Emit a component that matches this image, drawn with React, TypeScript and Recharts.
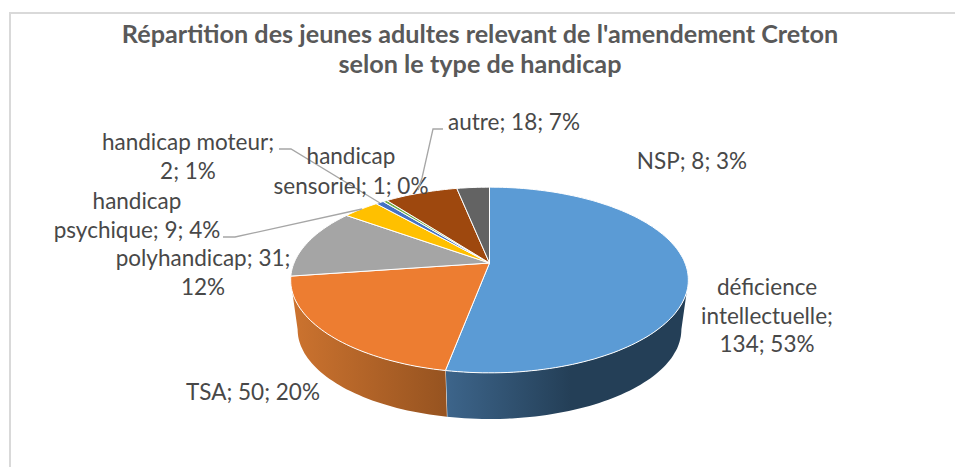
import { Pie, PieChart } from "recharts";

const categories = [
  "déficience intellectuelle",
  "TSA",
  "polyhandicap",
  "handicap psychique",
  "handicap moteur",
  "handicap sensoriel",
  "autre",
  "NSP",
];
const values = [134, 50, 31, 9, 2, 1, 18, 8];
const percents = [53, 20, 12, 4, 1, 0, 7, 3];
const colors = ["#5b9bd5", "#ed7d31", "#a5a5a5", "#ffc000", "#4472c4", "#70ad47", "#9e480e", "#636363"];

// label text, one entry per line, as placed by hand in the original
const labelLines = [
  ["déficience", "intellectuelle;", "134; 53%"],
  ["TSA; 50; 20%"],
  ["polyhandicap; 31;", "12%"],
  ["handicap", "psychique; 9; 4%"],
  ["handicap moteur;", "2; 1%"],
  ["handicap", "sensoriel; 1; 0%"],
  ["autre; 18; 7%"],
  ["NSP; 8; 3%"],
];
const labelX = [767, 253, 203, 137, 188, 351, 514, 692];
const labelY = [295, 400, 266, 209, 150, 164, 130, 169];
const labelStep = [28.5, 0, 29, 29, 29, 30, 0, 0];
const leaders: Record<number, string> = {
  3: "M223 237 L235 237 L362 209",
  4: "M279 149 L291 149 L380 203",
  6: "M443 129 L433 129 L422 178 L418 190",
};

const data = categories.map((name, i) => ({ name, value: values[i], percent: percents[i], fill: colors[i] }));

const W = 955;
const H = 467;
const CX = 489.5;
const CY = 263;
const RADIUS = 195.5;
const TILT = 0.459; // vertical squash of the disc
const PERSP = 0.183; // front of the disc is nearer, so it bulges
const DEPTH = 50;
const BOTTOM_SCALE = 0.965;

// angle in recharts degrees -> point on the tilted disc
function project(angle: number, cx: number, cy: number, r: number) {
  const a = (angle * Math.PI) / 180;
  const x = Math.cos(a);
  const y = -Math.sin(a);
  const d = 1 - PERSP * y;
  return [cx + (r * x) / d, cy + (r * TILT * y) / d];
}

function arcPoints(from: number, to: number, cx: number, cy: number, r: number) {
  const n = Math.max(1, Math.ceil(Math.abs(to - from) / 1.5));
  const pts: number[][] = [];
  for (let i = 0; i <= n; i++) pts.push(project(from + ((to - from) * i) / n, cx, cy, r));
  return pts;
}

const toPath = (pts: number[][]) => "M" + pts.map((p) => p[0].toFixed(1) + " " + p[1].toFixed(1)).join(" L") + " Z";

function TopSlice(props: any) {
  const { cx, cy, outerRadius, startAngle, endAngle, fill } = props;
  const pts = [[cx, cy], ...arcPoints(startAngle, endAngle, cx, cy, outerRadius)];
  return <path d={toPath(pts)} fill={fill} stroke="#ffffff" strokeWidth={1} strokeLinejoin="round" />;
}

function SideSlice(props: any) {
  const { cx, cy, outerRadius, startAngle, endAngle, index } = props;
  // only the front of the rim shows, rim and base have slightly different silhouettes
  const topFrom = Math.min(startAngle, -18);
  const topTo = Math.max(endAngle, -162);
  const baseFrom = Math.min(startAngle, -10.5);
  const baseTo = Math.max(endAngle, -169.5);
  if (baseFrom <= baseTo) return <g />;
  const top = arcPoints(topFrom, topTo, cx, cy, outerRadius);
  const base = arcPoints(baseFrom, baseTo, cx, cy + DEPTH, outerRadius * BOTTOM_SCALE);
  const id = "wall" + index;
  const stops =
    index === 0
      ? [["0", "#3d658b"], ["0.52", "#243f57"], ["1", "#243f57"]]
      : [["0", "#cc732f"], ["1", "#965320"]];
  return (
    <g>
      <defs>
        <linearGradient id={id} x1="0" y1="0" x2="1" y2="0">
          {stops.map((s) => (
            <stop key={s[0]} offset={s[0]} stopColor={s[1]} />
          ))}
        </linearGradient>
      </defs>
      <path d={toPath([...top, ...base.reverse()])} fill={"url(#" + id + ")"} stroke="none" />
      {index === 0 && <path d={`M${top[top.length - 1][0]} ${top[top.length - 1][1]} L${base[0][0]} ${base[0][1]}`} stroke="#ffffff" strokeWidth={1} />}
    </g>
  );
}

function SliceLabel(props: any) {
  const i = props.index;
  return (
    <g>
      {labelLines[i].map((line, n) => (
        <text
          key={line}
          x={labelX[i]}
          y={labelY[i] + n * labelStep[i]}
          textAnchor="middle"
          fontFamily="Lato"
          fontSize={22.5}
          fill="#484848"
        >
          {line}
        </text>
      ))}
      {leaders[i] && <path d={leaders[i]} fill="none" stroke="#a6a6a6" strokeWidth={1.3} />}
    </g>
  );
}

export default function App() {
  return (
    <div style={{ position: "absolute", left: 0, top: 0, width: W, height: H, background: "#ffffff", overflow: "hidden" }}>
      <div
        style={{
          position: "absolute",
          left: 9,
          top: 12,
          width: W,
          height: H,
          borderLeft: "2px solid #d9d9d9",
          borderTop: "2px solid #d9d9d9",
        }}
      />
      <PieChart
        width={W}
        height={H}
        margin={{ top: 0, right: 0, bottom: 0, left: 0 }}
        style={{ position: "absolute", left: 0, top: 0 }}
      >
        <text x={480} y={43} textAnchor="middle" fontFamily="Lato" fontWeight={700} fontSize={25.2} fill="#595959">
          Répartition des jeunes adultes relevant de l'amendement Creton
        </text>
        <text x={480} y={73} textAnchor="middle" fontFamily="Lato" fontWeight={700} fontSize={25.2} fill="#595959">
          selon le type de handicap
        </text>
        <Pie
          data={data}
          dataKey="value"
          cx={CX}
          cy={CY}
          innerRadius={0}
          outerRadius={RADIUS}
          startAngle={90}
          endAngle={-270}
          isAnimationActive={false}
          legendType="none"
          shape={SideSlice}
          label={false}
          labelLine={false}
        />
        <Pie
          data={data}
          dataKey="value"
          cx={CX}
          cy={CY}
          innerRadius={0}
          outerRadius={RADIUS}
          startAngle={90}
          endAngle={-270}
          isAnimationActive={false}
          shape={TopSlice}
          label={SliceLabel}
          labelLine={false}
        />
      </PieChart>
    </div>
  );
}
